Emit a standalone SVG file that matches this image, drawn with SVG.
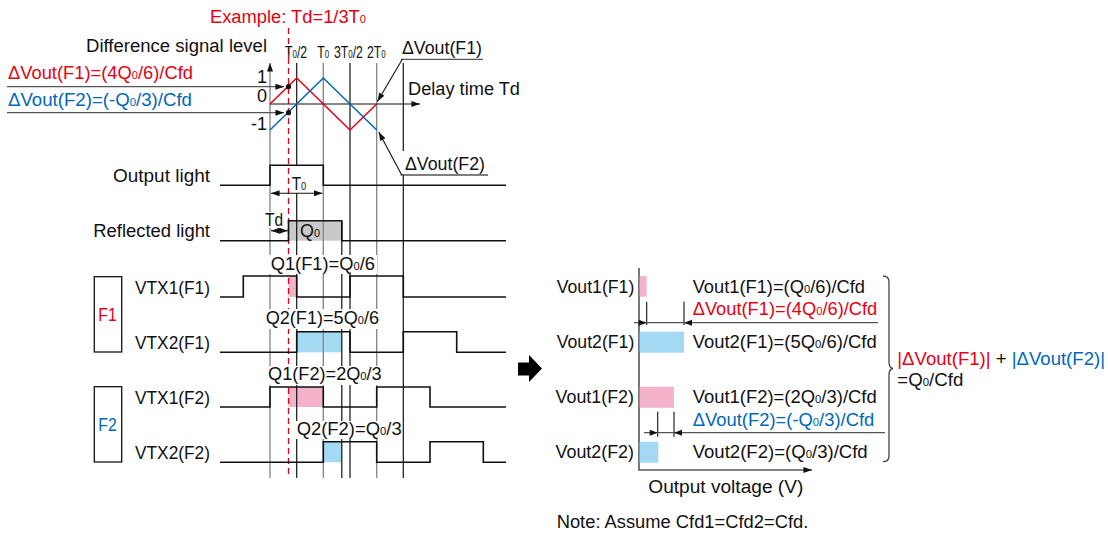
<svg xmlns="http://www.w3.org/2000/svg" width="1108" height="538" viewBox="0 0 1108 538">
<defs>
<style>
.t{font-family:"Liberation Sans",Arial,sans-serif;font-size:18px;fill:#111}
.r{fill:#e60012}
.b{fill:#0068b7}
.s{font-size:11px}
.ax{font-family:"Liberation Sans",Arial,sans-serif;font-size:17px;fill:#111}
.axs{font-size:11px}
.g{stroke:#8a8a8a;stroke-width:1.4;fill:none}
.k{stroke:#111;stroke-width:1.2;fill:none}
.w{stroke:#111;stroke-width:1.6;fill:none}
.bg{fill:#fff}
.pk{fill:#f4b3cb}
.lb{fill:#a3d9f3}
</style>
<marker id="ah" viewBox="0 0 10 7" refX="10" refY="3.5" markerWidth="9" markerHeight="6" markerUnits="userSpaceOnUse" orient="auto-start-reverse"><path d="M0,0L10,3.5L0,7z" fill="#111"/></marker>
</defs>
<rect width="1108" height="538" fill="#fff"/>

<g id="fills">
<rect x="288.5" y="220.7" width="53.3" height="20" fill="#c9c9c9"/>
<rect class="pk" x="288.5" y="276" width="8.2" height="21"/>
<rect class="lb" x="296.7" y="331.7" width="45.1" height="20.6"/>
<rect class="pk" x="288.5" y="387" width="34.8" height="20"/>
<rect class="lb" x="323.3" y="441.7" width="18.5" height="20.6"/>
</g>

<g id="grid">
<line class="g" x1="270" y1="478" x2="270" y2="63" marker-end="url(#ah)"/>
<line class="k" x1="296.7" y1="63" x2="296.7" y2="165"/>
<line class="k" x1="296.7" y1="193" x2="296.7" y2="478"/>
<line class="g" x1="323.3" y1="63" x2="323.3" y2="478"/>
<line class="k" x1="350" y1="63" x2="350" y2="478"/>
<line class="g" x1="376.7" y1="63" x2="376.7" y2="478"/>
<line class="k" x1="403.3" y1="63" x2="403.3" y2="478"/>
<line class="k" x1="341.8" y1="221" x2="341.8" y2="478"/>
<line x1="288.5" y1="28" x2="288.5" y2="478" stroke="#e60012" stroke-width="1.3" stroke-dasharray="6,4"/>
</g>

<g id="label-bgs">
<rect class="bg" x="398" y="151" width="92" height="23"/>
<rect class="bg" x="264" y="212" width="20" height="16"/>
<rect class="bg" x="269" y="255" width="108" height="19"/>
<rect class="bg" x="264" y="309" width="117" height="20"/>
<rect class="bg" x="266" y="366" width="117" height="19"/>
<rect class="bg" x="295" y="421" width="106.5" height="18"/>
</g>

<g id="connectors">
<line x1="270" y1="104" x2="420" y2="104" stroke="#111" stroke-width="1.2" marker-end="url(#ah)"/>
<polyline points="270,104 296.7,78 350,130 376.7,104" fill="none" stroke="#e60012" stroke-width="1.5"/>
<polyline points="270,130 323.3,78 376.7,130" fill="none" stroke="#0068b7" stroke-width="1.5"/>
<circle cx="288.5" cy="86.7" r="2.6" fill="#111"/>
<circle cx="288.5" cy="112.7" r="2.6" fill="#111"/>
<line x1="7" y1="86.7" x2="284" y2="86.7" stroke="#555" stroke-width="1.3" marker-end="url(#ah)"/>
<line x1="7" y1="112.7" x2="284" y2="112.7" stroke="#555" stroke-width="1.3" marker-end="url(#ah)"/>
<line x1="401" y1="59.3" x2="483" y2="59.3" stroke="#555" stroke-width="1.3"/>
<line x1="402.3" y1="59.3" x2="377.5" y2="101.5" stroke="#111" stroke-width="1.1" marker-end="url(#ah)"/>
<line x1="400.7" y1="175" x2="488" y2="175" stroke="#555" stroke-width="1.3"/>
<line x1="401.7" y1="175" x2="378.8" y2="132" stroke="#111" stroke-width="1.1" marker-end="url(#ah)"/>
<line x1="271" y1="193.3" x2="322.5" y2="193.3" stroke="#111" stroke-width="1.1" marker-start="url(#ah)" marker-end="url(#ah)"/>
<line x1="271" y1="230.7" x2="287.8" y2="230.7" stroke="#111" stroke-width="1.1" marker-start="url(#ah)" marker-end="url(#ah)"/>
<path d="M518,362.5H529V355L542,368.5L529,382V375.5H518Z" fill="#000"/>
<polyline points="639,268 639,470 812,470" fill="none" stroke="#555" stroke-width="1.6" marker-end="url(#ah)"/>
<line x1="646.7" y1="301.7" x2="646.7" y2="325" stroke="#111" stroke-width="1.1"/>
<line x1="684" y1="301.7" x2="684" y2="325" stroke="#111" stroke-width="1.1"/>
<line x1="634" y1="322.7" x2="878" y2="322.7" stroke="#555" stroke-width="1.2"/>
<path d="M646.7,322.7l-8,-3v6z M684,322.7l8,-3v6z" fill="#111"/>
<line x1="657.7" y1="411.7" x2="657.7" y2="436.7" stroke="#111" stroke-width="1.1"/>
<line x1="674" y1="411.7" x2="674" y2="436.7" stroke="#111" stroke-width="1.1"/>
<line x1="644" y1="432.7" x2="885" y2="432.7" stroke="#555" stroke-width="1.2"/>
<path d="M657.7,432.7l-8,-3v6z M674,432.7l8,-3v6z" fill="#111"/>
<path d="M883,276Q889,276 889,282V362Q889,368 893,368.5Q889,369 889,375V455.7Q889,461.7 883,461.7" fill="none" stroke="#444" stroke-width="1.3"/>
</g>

<g id="waveforms">
<path class="w" d="M220,185.3H270V165.3H323.3V185.3H506"/>
<path class="w" d="M220,240.7H288.5V220.7H341.8V240.7H506"/>
<path class="w" d="M220,297H243.3V276H296.7V297H350V276H403.3V297H506"/>
<path class="w" d="M220,352.3H296.7V331.7H350V352.3H403.3V331.7H456.7V352.3H506"/>
<path class="w" d="M220,407H270V387H323.3V407H376.7V387H430V407H506"/>
<path class="w" d="M220,462.3H323.3V441.7H376.7V462.3H430V441.7H483.3V462.3H506"/>
</g>

<g id="node-f1-box"><rect x="94.3" y="276.7" width="27.4" height="75.3" fill="none" stroke="#111" stroke-width="1.3"/><text class="t r" x="98.3" y="321" textLength="18.4" lengthAdjust="spacingAndGlyphs">F1</text></g>
<g id="node-f2-box"><rect x="94.3" y="386.7" width="27.4" height="75.3" fill="none" stroke="#111" stroke-width="1.3"/><text class="t b" x="98.3" y="431" textLength="18.4" lengthAdjust="spacingAndGlyphs">F2</text></g>

<g id="node-top-labels">
<text class="t r" x="210" y="23" textLength="156" lengthAdjust="spacingAndGlyphs">Example: Td=1/3T<tspan class="s">0</tspan></text>
<text class="t" x="86" y="52" textLength="181" lengthAdjust="spacingAndGlyphs">Difference signal level</text>
<text class="t r" x="8" y="79" textLength="185" lengthAdjust="spacingAndGlyphs">ΔVout(F1)=(4Q<tspan class="s">0</tspan>/6)/Cfd</text>
<text class="t b" x="8" y="106" textLength="184" lengthAdjust="spacingAndGlyphs">ΔVout(F2)=(-Q<tspan class="s">0</tspan>/3)/Cfd</text>
<text class="t" x="267" y="83" text-anchor="end">1</text>
<text class="t" x="267" y="101.5" text-anchor="end">0</text>
<text class="t" x="267" y="130" text-anchor="end">-1</text>
<text class="ax" transform="translate(285,58) scale(0.72,1)">T<tspan class="axs">0</tspan>/2</text>
<text class="ax" transform="translate(317.3,58) scale(0.72,1)">T<tspan class="axs">0</tspan></text>
<text class="ax" transform="translate(334,58) scale(0.72,1)">3T<tspan class="axs">0</tspan>/2</text>
<text class="ax" transform="translate(367,58) scale(0.72,1)">2T<tspan class="axs">0</tspan></text>
<text class="t" x="402" y="54" textLength="80" lengthAdjust="spacingAndGlyphs">ΔVout(F1)</text>
<text class="t" x="408" y="95" textLength="112" lengthAdjust="spacingAndGlyphs">Delay time Td</text>
<text class="t" x="405" y="170" textLength="80" lengthAdjust="spacingAndGlyphs">ΔVout(F2)</text>
</g>

<g id="node-output-light">
<text class="t" x="113" y="182" textLength="97" lengthAdjust="spacingAndGlyphs">Output light</text>
<text class="t" x="291.7" y="190" textLength="14.5" lengthAdjust="spacingAndGlyphs">T<tspan class="s">0</tspan></text>
</g>
<g id="node-reflected-light">
<text class="t" x="93.3" y="237" textLength="116.7" lengthAdjust="spacingAndGlyphs">Reflected light</text>
<text class="t" x="265" y="226" textLength="18" lengthAdjust="spacingAndGlyphs">Td</text>
<text class="t" x="300" y="237" textLength="20" lengthAdjust="spacingAndGlyphs">Q<tspan class="s">0</tspan></text>
</g>
<g id="node-vtx1-f1">
<text class="t" x="270.7" y="270" textLength="104.3" lengthAdjust="spacingAndGlyphs">Q1(F1)=Q<tspan class="s">0</tspan>/6</text>
<text class="t" x="135" y="294" textLength="75" lengthAdjust="spacingAndGlyphs">VTX1(F1)</text>
</g>
<g id="node-vtx2-f1">
<text class="t" x="265.7" y="324" textLength="113.3" lengthAdjust="spacingAndGlyphs">Q2(F1)=5Q<tspan class="s">0</tspan>/6</text>
<text class="t" x="135" y="349" textLength="75" lengthAdjust="spacingAndGlyphs">VTX2(F1)</text>
</g>
<g id="node-vtx1-f2">
<text class="t" x="268" y="380" textLength="113.7" lengthAdjust="spacingAndGlyphs">Q1(F2)=2Q<tspan class="s">0</tspan>/3</text>
<text class="t" x="135" y="404" textLength="75" lengthAdjust="spacingAndGlyphs">VTX1(F2)</text>
</g>
<g id="node-vtx2-f2">
<text class="t" x="296.7" y="435" textLength="105" lengthAdjust="spacingAndGlyphs">Q2(F2)=Q<tspan class="s">0</tspan>/3</text>
<text class="t" x="135" y="459" textLength="75" lengthAdjust="spacingAndGlyphs">VTX2(F2)</text>
</g>

<g id="node-vout1-f1">
<rect class="pk" x="639.7" y="276" width="7" height="20.7"/>
<text class="t" x="556.7" y="293" textLength="77.6" lengthAdjust="spacingAndGlyphs">Vout1(F1)</text>
<text class="t" x="692.7" y="293" textLength="172.3" lengthAdjust="spacingAndGlyphs">Vout1(F1)=(Q<tspan class="s">0</tspan>/6)/Cfd</text>
</g>
<g id="node-dvout-f1">
<text class="t r" x="692.7" y="315" textLength="184.6" lengthAdjust="spacingAndGlyphs">ΔVout(F1)=(4Q<tspan class="s">0</tspan>/6)/Cfd</text>
</g>
<g id="node-vout2-f1">
<rect class="lb" x="639.7" y="331.7" width="44.3" height="21"/>
<text class="t" x="556.7" y="348" textLength="77.6" lengthAdjust="spacingAndGlyphs">Vout2(F1)</text>
<text class="t" x="692.7" y="348" textLength="184" lengthAdjust="spacingAndGlyphs">Vout2(F1)=(5Q<tspan class="s">0</tspan>/6)/Cfd</text>
</g>
<g id="node-vout1-f2">
<rect class="pk" x="639.7" y="386.7" width="34.3" height="21"/>
<text class="t" x="555.5" y="403" textLength="78.5" lengthAdjust="spacingAndGlyphs">Vout1(F2)</text>
<text class="t" x="692.7" y="403" textLength="184" lengthAdjust="spacingAndGlyphs">Vout1(F2)=(2Q<tspan class="s">0</tspan>/3)/Cfd</text>
</g>
<g id="node-dvout-f2">
<text class="t b" x="692.7" y="426" textLength="181.6" lengthAdjust="spacingAndGlyphs">ΔVout(F2)=(-Q<tspan class="s">0</tspan>/3)/Cfd</text>
</g>
<g id="node-vout2-f2">
<rect class="lb" x="639.7" y="441.7" width="18.6" height="21"/>
<text class="t" x="555.5" y="458" textLength="78.5" lengthAdjust="spacingAndGlyphs">Vout2(F2)</text>
<text class="t" x="692.7" y="458" textLength="175" lengthAdjust="spacingAndGlyphs">Vout2(F2)=(Q<tspan class="s">0</tspan>/3)/Cfd</text>
</g>
<g id="node-sum">
<text class="t" x="897.3" y="365" textLength="207.7" lengthAdjust="spacingAndGlyphs"><tspan class="r">|ΔVout(F1)|</tspan> + <tspan class="b">|ΔVout(F2)|</tspan></text>
<text class="t" x="897.3" y="386" textLength="66" lengthAdjust="spacingAndGlyphs">=Q<tspan class="s">0</tspan>/Cfd</text>
</g>
<g id="node-axis-label"><text class="t" x="648.3" y="493" textLength="155" lengthAdjust="spacingAndGlyphs">Output voltage (V)</text></g>
<g id="node-note"><text class="t" x="556.7" y="528" textLength="251.6" lengthAdjust="spacingAndGlyphs">Note: Assume Cfd1=Cfd2=Cfd.</text></g>
</svg>
